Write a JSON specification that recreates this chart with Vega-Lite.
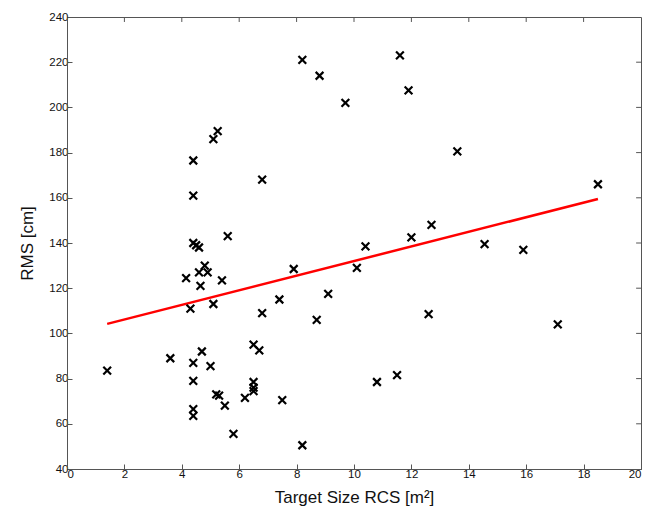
{
  "$schema": "https://vega.github.io/schema/vega-lite/v6.json",
  "autosize": {"type": "none"},
  "padding": {"left": 67, "top": 17, "right": 18, "bottom": 51},
  "width": 574,
  "height": 452,
  "background": "white",
  "config": {
    "view": {"stroke": "#555555", "strokeWidth": 1},
    "axis": {"grid": false, "labelFont": "Liberation Sans", "titleFont": "Liberation Sans", "labelColor": "#111", "titleColor": "#111", "domainColor": "#555", "tickColor": "#555", "labelFontSize": 11.5, "titleFontSize": 17, "titleFontWeight": "normal", "tickSize": -5}
  },
  "datasets": {
    "pts": [
      {"rcs": 1.4, "rms": 83.5}, {"rcs": 3.6, "rms": 89}, {"rcs": 4.15, "rms": 124.5}, {"rcs": 4.3, "rms": 111},
      {"rcs": 4.4, "rms": 79}, {"rcs": 4.4, "rms": 87}, {"rcs": 4.4, "rms": 66.5}, {"rcs": 4.4, "rms": 63.5},
      {"rcs": 4.4, "rms": 161}, {"rcs": 4.4, "rms": 176.5}, {"rcs": 4.4, "rms": 140}, {"rcs": 4.5, "rms": 139},
      {"rcs": 4.6, "rms": 138}, {"rcs": 4.6, "rms": 127}, {"rcs": 4.65, "rms": 121}, {"rcs": 4.8, "rms": 130},
      {"rcs": 4.9, "rms": 127}, {"rcs": 4.7, "rms": 92}, {"rcs": 5.0, "rms": 85.5}, {"rcs": 5.1, "rms": 113},
      {"rcs": 5.1, "rms": 186}, {"rcs": 5.25, "rms": 189.5}, {"rcs": 5.2, "rms": 73}, {"rcs": 5.3, "rms": 72.5},
      {"rcs": 5.4, "rms": 123.5}, {"rcs": 5.5, "rms": 68}, {"rcs": 5.6, "rms": 143}, {"rcs": 5.8, "rms": 55.5},
      {"rcs": 6.2, "rms": 71.5}, {"rcs": 6.5, "rms": 78.5}, {"rcs": 6.5, "rms": 76}, {"rcs": 6.5, "rms": 74.5},
      {"rcs": 6.5, "rms": 95}, {"rcs": 6.7, "rms": 92.5}, {"rcs": 6.8, "rms": 109}, {"rcs": 6.8, "rms": 168},
      {"rcs": 7.4, "rms": 115}, {"rcs": 7.5, "rms": 70.5}, {"rcs": 7.9, "rms": 128.5}, {"rcs": 8.2, "rms": 221},
      {"rcs": 8.2, "rms": 50.5}, {"rcs": 8.8, "rms": 214}, {"rcs": 8.7, "rms": 106}, {"rcs": 9.1, "rms": 117.5},
      {"rcs": 9.7, "rms": 202}, {"rcs": 10.1, "rms": 129}, {"rcs": 10.4, "rms": 138.5}, {"rcs": 10.8, "rms": 78.5},
      {"rcs": 11.5, "rms": 81.5}, {"rcs": 11.6, "rms": 223}, {"rcs": 11.9, "rms": 207.5}, {"rcs": 12.0, "rms": 142.5},
      {"rcs": 12.6, "rms": 108.5}, {"rcs": 12.7, "rms": 148}, {"rcs": 13.6, "rms": 180.5}, {"rcs": 14.55, "rms": 139.5},
      {"rcs": 15.9, "rms": 137}, {"rcs": 17.1, "rms": 104}, {"rcs": 18.5, "rms": 166}
    ],
    "fit": [{"rcs": 1.4, "rms": 104.2}, {"rcs": 18.5, "rms": 159.5}],
    "xticks": [{"v": 2}, {"v": 4}, {"v": 6}, {"v": 8}, {"v": 10}, {"v": 12}, {"v": 14}, {"v": 16}, {"v": 18}],
    "yticks": [{"v": 60}, {"v": 80}, {"v": 100}, {"v": 120}, {"v": 140}, {"v": 160}, {"v": 180}, {"v": 200}, {"v": 220}]
  },
  "layer": [
    {
      "data": {"name": "fit"},
      "mark": {"type": "line", "color": "#ff0000", "strokeWidth": 2.5},
      "encoding": {
        "x": {"field": "rcs", "type": "quantitative", "scale": {"domain": [0, 20], "nice": false}, "axis": {"values": [0,2,4,6,8,10,12,14,16,18,20], "title": "Target Size RCS  [m²]", "titlePadding": 10, "labelPadding": 4}},
        "y": {"field": "rms", "type": "quantitative", "scale": {"domain": [40, 240], "nice": false, "zero": false}, "axis": {"values": [40,60,80,100,120,140,160,180,200,220,240], "title": "RMS [cm]", "titlePadding": 12, "labelPadding": 4}}
      }
    },
    {
      "data": {"name": "xticks"},
      "mark": {"type": "rule", "color": "#555555", "strokeWidth": 1},
      "encoding": {
        "x": {"field": "v", "type": "quantitative"},
        "y": {"datum": 240, "type": "quantitative"},
        "y2": {"datum": 237.8}
      }
    },
    {
      "data": {"name": "yticks"},
      "mark": {"type": "rule", "color": "#555555", "strokeWidth": 1},
      "encoding": {
        "y": {"field": "v", "type": "quantitative"},
        "x": {"datum": 20, "type": "quantitative"},
        "x2": {"datum": 19.83}
      }
    },
    {
      "data": {"name": "pts"},
      "mark": {"type": "point", "shape": "M-1,-1L1,1M1,-1L-1,1", "filled": false, "stroke": "black", "strokeWidth": 2.2, "size": 60, "opacity": 1},
      "encoding": {
        "x": {"field": "rcs", "type": "quantitative"},
        "y": {"field": "rms", "type": "quantitative"}
      }
    }
  ]
}
